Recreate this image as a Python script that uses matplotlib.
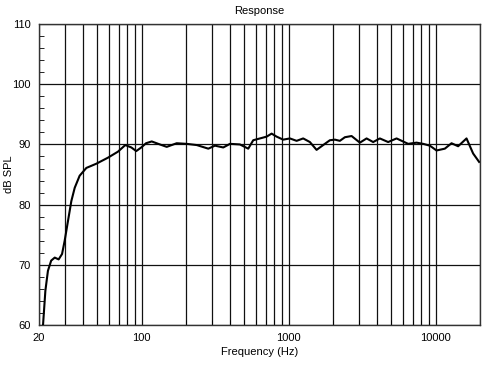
import numpy as np
import matplotlib.pyplot as plt
from matplotlib.ticker import FixedLocator, NullFormatter

# frequency response
freq = [21.3, 22.1, 23.0, 24.2, 25.6, 27.2, 28.7, 29.9, 31.5, 33.2, 35.0,
        37.8, 42.0, 49.1, 58.9, 68.9, 77.3, 85.0, 91.8, 99.3, 107, 117, 133,
        148, 173, 202, 237, 284,
        315, 359, 399, 466, 531, 574, 638, 708, 766, 828, 918, 1020, 1133,
        1256, 1395, 1549, 1718, 1908, 2064, 2232, 2414, 2681, 3054, 3392,
        3760, 4176, 4756, 5426, 6506, 7420, 8230, 9142, 10150, 11560, 12840,
        14240, 16240, 18010, 19780]
spl = [60.0, 65.7, 69.0, 70.7, 71.2, 70.9, 71.8, 74.0, 77.3, 80.6, 82.8,
       84.8, 86.1, 86.8, 87.8, 88.8, 89.9, 89.5, 88.9, 89.5, 90.2, 90.5, 90.0,
       89.6, 90.2, 90.1, 89.9,
       89.3, 89.8, 89.5, 90.1, 90.0, 89.3, 90.7, 91.0, 91.3, 91.8, 91.3, 90.8,
       91.0, 90.6, 91.0, 90.4, 89.1, 89.9, 90.7, 90.8, 90.6, 91.2, 91.4, 90.3,
       91.0, 90.4, 91.0, 90.4, 91.0, 90.1, 90.3, 90.1, 89.8, 89.0, 89.3, 90.2,
       89.7, 91.0, 88.5, 87.1]

xgrid = [20, 30, 40, 50, 60, 70, 80, 90, 100, 200, 300, 400, 500, 600, 700,
         800, 900, 1000, 2000, 3000, 4000, 5000, 6000, 7000, 8000, 9000,
         10000, 20000]
xlabels = [20, 100, 1000, 10000]
ylabels = [60, 70, 80, 90, 100, 110]

fig = plt.figure(figsize=(5.04, 3.65), dpi=100)
ax = fig.add_axes([0.0774, 0.1096, 0.8746, 0.8244])
plt.rcParams['font.family'] = 'Liberation Sans'

for g in xgrid:
    ax.axvline(g, color='#111111', lw=0.9, zorder=1)
for g in ylabels:
    ax.axhline(g, color='#111111', lw=0.9, zorder=1)

ax.plot(freq, spl, color='black', lw=1.5, zorder=3)

ax.set_xscale('log')
ax.set_xlim(20, 20000)
ax.set_ylim(60, 110)
ax.xaxis.set_major_locator(FixedLocator(xlabels))
ax.xaxis.set_major_formatter(plt.FixedFormatter([str(v) for v in xlabels]))
ax.xaxis.set_minor_locator(FixedLocator(xgrid))
ax.xaxis.set_minor_formatter(NullFormatter())
ax.set_yticks(ylabels)
ax.set_yticks(np.arange(60, 111, 2), minor=True)
ax.tick_params(which='both', direction='in', labelsize=8,
               top=False, right=False)
ax.tick_params(which='major', length=0, pad=6)
ax.tick_params(which='minor', length=3.5)
ax.tick_params(axis='x', which='major', pad=6)

for lab in ax.get_xticklabels() + ax.get_yticklabels():
    lab.set_family('Liberation Sans')

for s in ax.spines.values():
    s.set_color('#333333')
    s.set_linewidth(1)

ax.set_title('Response', fontsize=8, family='Liberation Sans', pad=7)
ax.set_xlabel('Frequency (Hz)', fontsize=8, family='Liberation Sans', labelpad=3)
ax.set_ylabel('dB SPL', fontsize=8, family='Liberation Sans')
ax.yaxis.set_label_coords(-0.057, 0.5)

fig.savefig('out.png', dpi=100)
